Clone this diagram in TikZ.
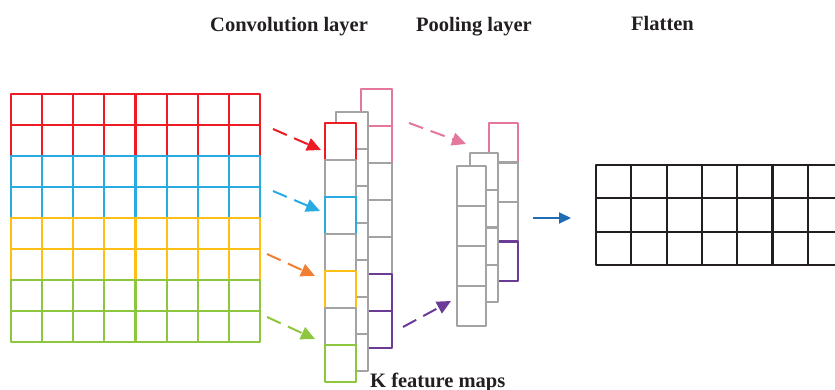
\documentclass[tikz,border=0pt]{standalone}
\usepackage{fontspec}
\setmainfont{Liberation Serif}
\usetikzlibrary{arrows.meta}

\definecolor{cred}{HTML}{ED1C24}
\definecolor{cblue}{HTML}{29ABE2}
\definecolor{cyellow}{HTML}{FDBF16}
\definecolor{cgreen}{HTML}{8DC63F}
\definecolor{cgray}{HTML}{A3A3A5}
\definecolor{cpink}{HTML}{E3779C}
\definecolor{cpurple}{HTML}{6B3C97}
\definecolor{corange}{HTML}{F07F33}
\definecolor{cdarkblue}{HTML}{1E6DB4}
\definecolor{cblack}{HTML}{231F20}

\tikzset{
  cell/.style={line width=2.2pt, line join=round},
  stackcell/.style={cell, fill=white},
  dasharrow/.style={line width=2pt, dash pattern=on 15pt off 8pt, -{Triangle[length=14pt, width=13pt]}},
  title/.style={font=\fontsize{20.5}{24}\selectfont\bfseries, text=cblack, inner sep=0pt, anchor=base west}
}

\begin{document}
\begin{tikzpicture}[x=1pt, y=-1pt]
  \useasboundingbox (0,0) rectangle (835,390);

  \node[title] (conv) at (210,32) {Convolution layer};
  \node[title] (pool) at (416,32) {Pooling layer};
  \node[title] (flat) at (631,31) {Flatten};
  \node[title] (kmaps) at (370,387) {K feature maps};

  \foreach \r/\col in {0/cred,1/cred,2/cblue,3/cblue,4/cyellow,5/cyellow,6/cgreen,7/cgreen}
    \foreach \c in {0,...,7}
      \draw[\col, cell] (11+31.125*\c, 94+31*\r) rectangle ++(31.125,31);

  \foreach \r/\col in {0/cpink,1/cpink,2/cgray,3/cgray,4/cgray,5/cpurple,6/cpurple}
    \draw[\col, stackcell] (361, 89+37*\r) rectangle ++(31,37);
  \foreach \r in {0,...,6}
    \draw[cgray, stackcell] (336, 112+37*\r) rectangle ++(32,37);
  \foreach \r/\col in {0/cred,1/cgray,2/cblue,3/cgray,4/cyellow,5/cgray,6/cgreen}
    \draw[\col, stackcell] (325, 123+37*\r) rectangle ++(31,37);

  \foreach \r/\col in {0/cpink,1/cgray,2/cgray,3/cpurple}
    \draw[\col, stackcell] (489, 123+39.5*\r) rectangle ++(29,39.5);
  \foreach \r in {0,...,3}
    \draw[cgray, stackcell] (470, 153+37.25*\r) rectangle ++(28,37.25);
  \foreach \r in {0,...,3}
    \draw[cgray, stackcell] (457, 166+40*\r) rectangle ++(29,40);

  \begin{scope}
    \clip (0,0) rectangle (835,390);
    \foreach \r in {0,1,2}
      \foreach \c in {0,...,7}
        \draw[cblack, cell] (596+35.3*\c, 165+33.3*\r) rectangle ++(35.3,33.3);
  \end{scope}

  \coordinate (r1) at (273,129);
  \coordinate (r2) at (321,150);
  \coordinate (b1) at (273,191);
  \coordinate (b2) at (320,211);
  \coordinate (o1) at (267,254);
  \coordinate (o2) at (315,276);
  \coordinate (g1) at (267,317);
  \coordinate (g2) at (315,339);
  \coordinate (p1) at (409,123);
  \coordinate (p2) at (466,144);
  \coordinate (u1) at (403,327);
  \coordinate (u2) at (451,301);
  \coordinate (f1) at (533,218);
  \coordinate (f2) at (571,218);

  \draw[cred, dasharrow] (r1) -- (r2);
  \draw[cblue, dasharrow] (b1) -- (b2);
  \draw[corange, dasharrow] (o1) -- (o2);
  \draw[cgreen, dasharrow] (g1) -- (g2);
  \draw[cpink, dasharrow] (p1) -- (p2);
  \draw[cpurple, dasharrow] (u1) -- (u2);
  \draw[cdarkblue, line width=2pt, -{Triangle[length=12pt, width=11pt]}] (f1) -- (f2);
\end{tikzpicture}
\end{document}
